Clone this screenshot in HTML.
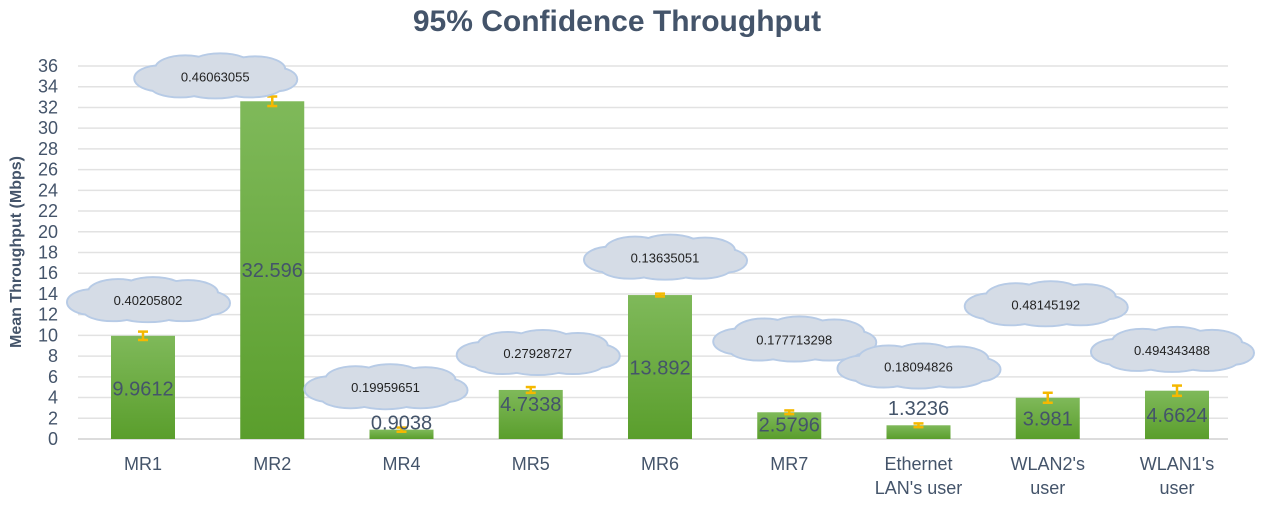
<!DOCTYPE html>
<html><head><meta charset="utf-8"><style>
body{margin:0;background:#fff;}
svg text{font-family:"Liberation Sans",sans-serif;}
</style></head><body>
<svg id="c" width="1267" height="504" xmlns="http://www.w3.org/2000/svg">
<defs>
<linearGradient id="g" x1="0" y1="0" x2="0" y2="1"><stop offset="0" stop-color="#7fb95a"/><stop offset="1" stop-color="#5a9e2c"/></linearGradient>
</defs>
<text x="617" y="31" text-anchor="middle" font-size="30" font-weight="bold" fill="#44546a">95% Confidence Throughput</text>
<text transform="translate(21,252) rotate(-90)" text-anchor="middle" font-size="16" font-weight="bold" fill="#44546a">Mean Throughput (Mbps)</text>
<g id="grid"></g><g id="bars"></g><g id="clouds"></g>
</svg>
<script>
const categories=[["MR1"],["MR2"],["MR4"],["MR5"],["MR6"],["MR7"],["Ethernet","LAN's user"],["WLAN2's","user"],["WLAN1's","user"]];
const values=[9.9612,32.596,0.9038,4.7338,13.892,2.5796,1.3236,3.981,4.6624];
const errors=[0.40205802,0.46063055,0.19959651,0.27928727,0.13635051,0.177713298,0.18094826,0.48145192,0.494343488];
const errorText=["0.40205802","0.46063055","0.19959651","0.27928727","0.13635051","0.177713298","0.18094826","0.48145192","0.494343488"];
const labelY=[4.85,16.3,1.6,3.4,6.9,1.4,3.0,2.0,2.3];
const cloudY=[13.4,35.0,5.0,8.3,17.5,9.6,7.0,13.0,8.6];
const cloudDx=[5,-57,-16,7,5,5,0,-2,-5];
const yTicks=[0,2,4,6,8,10,12,14,16,18,20,22,24,26,28,30,32,34,36];
const NS="http://www.w3.org/2000/svg";
const y=v=>439-v*(373/36);
const x=i=>143+i*129.25;
function mk(t,a,p){const e=document.createElementNS(NS,t);for(const k in a)e.setAttribute(k,a[k]);p.appendChild(e);return e;}
const grid=document.getElementById('grid');
yTicks.forEach(t=>{
 const l=mk('line',{x1:78,x2:1228,y1:y(t),y2:y(t),stroke:t===0?'#d0d0d0':'#e2e2e2','stroke-width':1.5},grid);
 
 
 const tx=mk('text',{x:58,y:y(t)+6,'text-anchor':'end','font-size':18,fill:'#44546a'},grid);
 tx.textContent=t;
 
 
});
const bars=document.getElementById('bars'),clouds=document.getElementById('clouds');
const puffs=[[-55,2,26,13],[-30,-8,30,13],[5,-10,32,13],[40,-7,30,13],[60,3,22,12],[35,10,32,11],[0,11,35,11],[-35,10,30,11],[-2,0,70,14]];
values.forEach((v,i)=>{
 const cx=x(i);
 const r=mk('rect',{x:cx-32,y:y(v),width:64,height:y(0)-y(v),fill:'url(#g)'},bars);
 
 
 const e=errors[i];
 const eg=mk('g',{stroke:'#f5b800','stroke-width':2.5},bars);
 
 
 mk('line',{x1:cx,x2:cx,y1:y(v+e),y2:y(v-e)},eg);
 mk('line',{x1:cx-5,x2:cx+5,y1:y(v+e),y2:y(v+e)},eg);
 mk('line',{x1:cx-5,x2:cx+5,y1:y(v-e),y2:y(v-e)},eg);
 const lt=mk('text',{x:cx,y:y(labelY[i])+7,'text-anchor':'middle','font-size':20,fill:'#44546a'},bars);
 lt.textContent=String(v);
 
 
 categories[i].forEach((s,j)=>{
  const ct=mk('text',{x:cx,y:470+j*24,'text-anchor':'middle','font-size':18,fill:'#44546a'},bars);
  ct.textContent=s;
  
  
 });
 const ccx=cx+cloudDx[i], ccy=y(cloudY[i]);
 const cg=mk('g',{},clouds);
 
 
 puffs.forEach(p=>mk('ellipse',{cx:ccx+p[0],cy:ccy+p[1],rx:p[2],ry:p[3],fill:'#d5dce6',stroke:'#b7cbe6','stroke-width':2},cg));
 puffs.forEach(p=>mk('ellipse',{cx:ccx+p[0],cy:ccy+p[1],rx:p[2]-1,ry:p[3]-1,fill:'#d5dce6'},cg));
 const t=mk('text',{x:ccx,y:ccy+5,'text-anchor':'middle','font-size':13,fill:'#222'},clouds);
 t.textContent=errorText[i];
 
 
});
</script>
</body></html>
